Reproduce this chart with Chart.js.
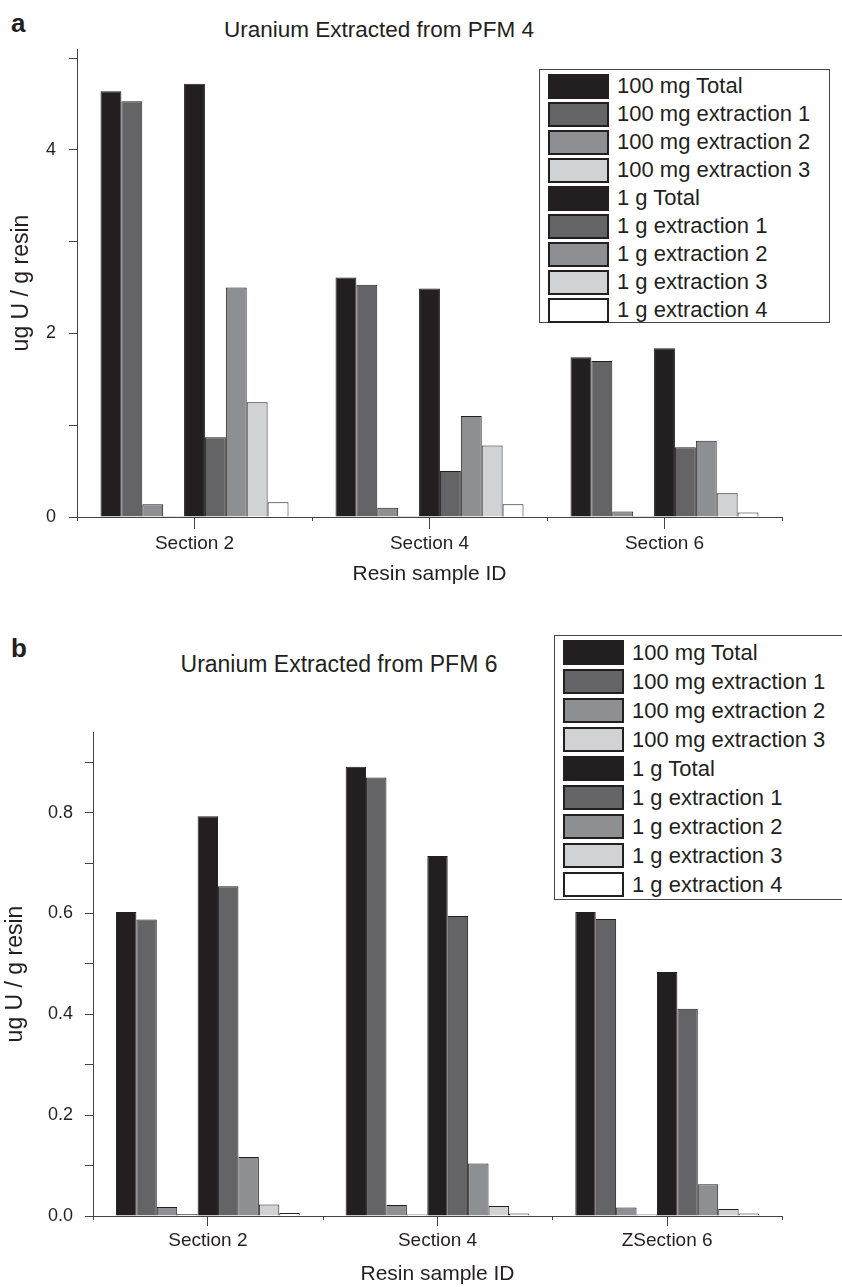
<!DOCTYPE html>
<html>
<head>
<meta charset="utf-8">
<script src="https://cdn.jsdelivr.net/npm/chart.js@4.4.0/dist/chart.umd.min.js"></script>
<style>
  body { margin: 0; background: #fff; font-family: 'Liberation Sans', Arial, sans-serif; color: #231f20; }
  #page { position: relative; width: 842px; height: 1287px; overflow: hidden; }
  .panel { position: absolute; left: 0; }
  .letter { position: absolute; font-weight: bold; font-size: 26px; line-height: 1; }
  .title { position: absolute; line-height: 1; white-space: nowrap; transform: translateX(-50%); }
  .legend { position: absolute; border: 1.5px solid #444; background: #fff; box-sizing: border-box; padding-left: 8px; }
  .legend .row { display: flex; align-items: center; }
  .legend .sw { width: 61px; height: 25px; border: 2px solid #231f20; box-sizing: border-box; margin-right: 8px; }
  .legend .lbl { font-size: 22px; white-space: nowrap; }
</style>
</head>
<body>
<div id="page">
  <div class="letter" style="left:11px; top:10px;">a</div>
  <div class="title" style="left:379px; top:19px; font-size:22.5px;">Uranium Extracted from PFM 4</div>
  <div class="panel" style="top:0; width:842px; height:600px;">
    <canvas id="chartA" width="842" height="600"></canvas>
  </div>
  <div class="legend" id="legendA" style="left:539px; top:69px; width:291px; height:254px; padding-top:2px;"></div>

  <div class="letter" style="left:11px; top:635px;">b</div>
  <div class="title" style="left:339px; top:653px; font-size:23px;">Uranium Extracted from PFM 6</div>
  <div class="panel" style="top:620px; width:842px; height:667px;">
    <canvas id="chartB" width="842" height="667"></canvas>
  </div>
  <div class="legend" id="legendB" style="left:554px; top:635px; width:292px; height:265px; padding-top:2px;"></div>
</div>

<script>
// categories
const sectionsPFM4 = ['Section 2', 'Section 4', 'Section 6'];
const sectionsPFM6 = ['Section 2', 'Section 4', 'ZSection 6'];

// series (same order as bars inside a group)
const seriesNames = [
  '100 mg Total', '100 mg extraction 1', '100 mg extraction 2', '100 mg extraction 3',
  '1 g Total', '1 g extraction 1', '1 g extraction 2', '1 g extraction 3', '1 g extraction 4'
];
const seriesColors = [
  '#231f20', '#646466', '#8e8f92', '#d1d2d4',
  '#231f20', '#646466', '#8e8f92', '#d1d2d4', '#ffffff'
];

// PFM 4 values (ug U / g resin)
const pfm4Mg100Total = [4.64, 2.61, 1.74];
const pfm4Mg100Ext1  = [4.53, 2.53, 1.70];
const pfm4Mg100Ext2  = [0.14, 0.10, 0.06];
const pfm4Mg100Ext3  = [0.01, 0.01, 0.01];
const pfm4G1Total    = [4.72, 2.49, 1.84];
const pfm4G1Ext1     = [0.87, 0.50, 0.76];
const pfm4G1Ext2     = [2.50, 1.10, 0.83];
const pfm4G1Ext3     = [1.25, 0.78, 0.26];
const pfm4G1Ext4     = [0.16, 0.14, 0.05];

// PFM 6 values (ug U / g resin)
const pfm6Mg100Total = [0.603, 0.891, 0.603];
const pfm6Mg100Ext1  = [0.588, 0.870, 0.589];
const pfm6Mg100Ext2  = [0.018, 0.022, 0.017];
const pfm6Mg100Ext3  = [0.004, 0.003, 0.003];
const pfm6G1Total    = [0.793, 0.714, 0.484];
const pfm6G1Ext1     = [0.654, 0.595, 0.411];
const pfm6G1Ext2     = [0.117, 0.104, 0.063];
const pfm6G1Ext3     = [0.023, 0.020, 0.014];
const pfm6G1Ext4     = [0.006, 0.005, 0.005];

const pfm4Series = [pfm4Mg100Total, pfm4Mg100Ext1, pfm4Mg100Ext2, pfm4Mg100Ext3,
  pfm4G1Total, pfm4G1Ext1, pfm4G1Ext2, pfm4G1Ext3, pfm4G1Ext4];
const pfm6Series = [pfm6Mg100Total, pfm6Mg100Ext1, pfm6Mg100Ext2, pfm6Mg100Ext3,
  pfm6G1Total, pfm6G1Ext1, pfm6G1Ext2, pfm6G1Ext3, pfm6G1Ext4];

const ink = '#231f20';
const axisColor = '#444';
const fontFamily = "'Liberation Sans', Arial, sans-serif";

// small boundary ticks between categories
const boundaryTicks = {
  id: 'boundaryTicks',
  afterDraw(chart) {
    const xs = chart.scales.x;
    const ctx = chart.ctx;
    const n = xs.ticks.length;
    const step = n > 1 ? xs.getPixelForTick(1) - xs.getPixelForTick(0) : xs.width;
    const start = xs.getPixelForTick(0) - step / 2;
    ctx.save();
    ctx.strokeStyle = axisColor;
    ctx.lineWidth = 1;
    for (let i = 0; i <= n; i++) {
      const px = Math.round(start + i * step) + 0.5;
      ctx.beginPath();
      ctx.moveTo(px, xs.top);
      ctx.lineTo(px, xs.top + 4);
      ctx.stroke();
    }
    ctx.restore();
  }
};

function buildDatasets(series) {
  return series.map((values, i) => ({
    label: seriesNames[i],
    data: values,
    backgroundColor: seriesColors[i],
    borderColor: ink,
    borderWidth: 1,
    categoryPercentage: 0.8,
    barPercentage: 1.0,
  }));
}

function createChart(id, cfg) {
  const ctx = document.getElementById(id).getContext('2d');
  return new Chart(ctx, {
    type: 'bar',
    data: {
      labels: cfg.labels,
      datasets: buildDatasets(cfg.series),
    },
    options: {
      responsive: false,
      animation: false,
      devicePixelRatio: 1,
      layout: { padding: cfg.padding },
      plugins: {
        legend: { display: false },
        tooltip: { enabled: false },
      },
      scales: {
        x: {
          offset: true,
          afterFit: (scale) => { scale.height = cfg.xHeight; },
          border: { display: true, color: axisColor, width: 1 },
          grid: { display: true, drawOnChartArea: false, offset: false, tickLength: cfg.centerTick, tickColor: axisColor },
          ticks: { color: ink, padding: 3, font: { family: fontFamily, size: 19 } },
          title: {
            display: true,
            text: 'Resin sample ID',
            color: ink,
            padding: { top: 0, bottom: cfg.xTitlePad },
            font: { family: fontFamily, size: 21 },
          },
        },
        y: {
          min: 0,
          max: cfg.yMax,
          afterFit: (scale) => { scale.width = cfg.yWidth; },
          border: { display: true, color: axisColor, width: 1 },
          grid: { display: true, drawOnChartArea: false, tickLength: 8, tickColor: axisColor },
          ticks: {
            stepSize: cfg.yStep,
            includeBounds: false,
            color: ink,
            padding: cfg.yTickPad,
            font: { family: fontFamily, size: 18 },
            callback: cfg.yLabel,
          },
          title: {
            display: true,
            text: 'ug U / g resin',
            color: ink,
            padding: { top: cfg.yTitlePad, bottom: 0 },
            font: { family: fontFamily, size: 23 },
          },
        },
      },
    },
    plugins: [boundaryTicks],
  });
}

function buildLegend(id, rowHeight) {
  const box = document.getElementById(id);
  seriesNames.forEach((name, i) => {
    const row = document.createElement('div');
    row.className = 'row';
    row.style.height = rowHeight + 'px';
    const sw = document.createElement('div');
    sw.className = 'sw';
    sw.style.background = seriesColors[i];
    const lbl = document.createElement('span');
    lbl.className = 'lbl';
    lbl.textContent = name;
    row.appendChild(sw);
    row.appendChild(lbl);
    box.appendChild(row);
  });
}

createChart('chartA', {
  labels: sectionsPFM4,
  series: pfm4Series,
  padding: { left: 0, top: 49, right: 60, bottom: 7 },
  xHeight: 76,
  xTitlePad: 6,
  centerTick: 12,
  yWidth: 77,
  yMax: 5.1,
  yStep: 1,
  yTickPad: 13,
  yTitlePad: 8,
  yLabel: (v) => (Math.round(v) % 2 === 0 ? String(Math.round(v)) : ''),
});

createChart('chartB', {
  labels: sectionsPFM6,
  series: pfm6Series,
  padding: { left: 0, top: 112, right: 60, bottom: 0 },
  xHeight: 71,
  xTitlePad: 0,
  centerTick: 10,
  yWidth: 93,
  yMax: 0.96,
  yStep: 0.1,
  yTickPad: 12,
  yTitlePad: 2,
  yLabel: (v) => (Math.round(v * 10) % 2 === 0 ? v.toFixed(1) : ''),
});

buildLegend('legendA', 28);
buildLegend('legendB', 29);
</script>
</body>
</html>
